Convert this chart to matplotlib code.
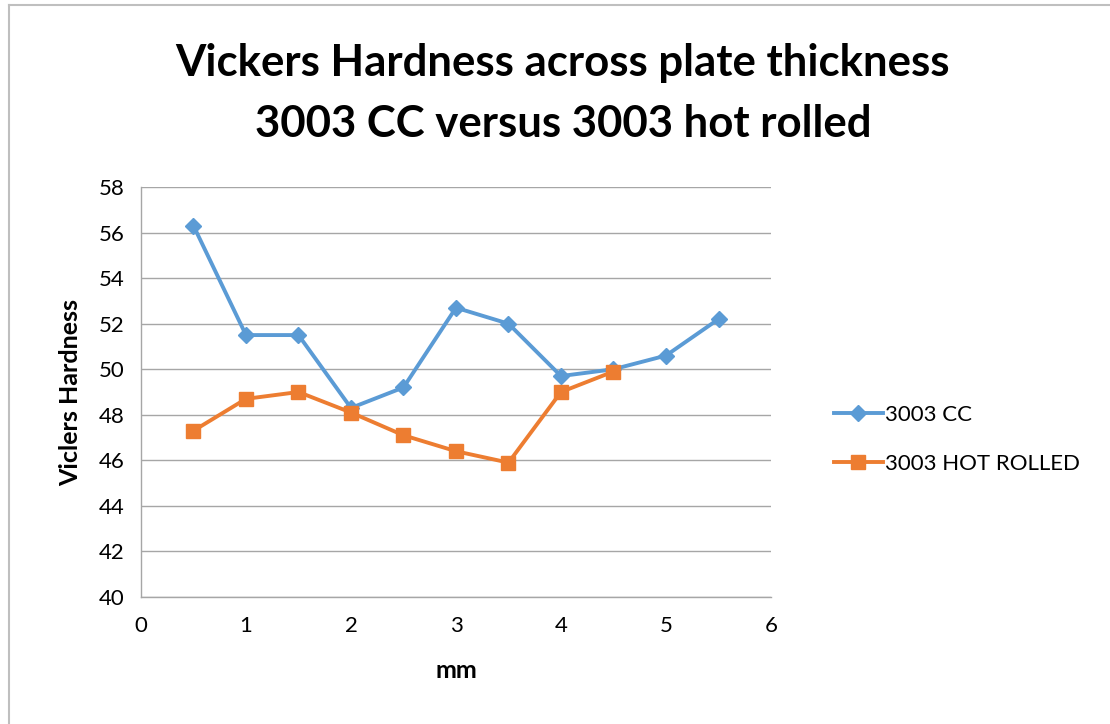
import matplotlib
matplotlib.use("Agg")
import matplotlib.pyplot as plt
from matplotlib.lines import Line2D

# Hardness readings across the plate thickness
thickness_cc = [0.5, 1.0, 1.5, 2.0, 2.5, 3.0, 3.5, 4.0, 4.5, 5.0, 5.5]
hardness_cc = [56.3, 51.5, 51.5, 48.3, 49.2, 52.7, 52.0, 49.7, 50.0, 50.6, 52.2]

thickness_hr = [0.5, 1.0, 1.5, 2.0, 2.5, 3.0, 3.5, 4.0, 4.5]
hardness_hr = [47.3, 48.7, 49.0, 48.1, 47.1, 46.4, 45.9, 49.0, 49.9]

series_labels = ["3003 CC", "3003 HOT ROLLED"]
x_ticks = [0, 1, 2, 3, 4, 5, 6]
y_ticks = [40, 42, 44, 46, 48, 50, 52, 54, 56, 58]

plt.rcParams['font.family'] = ['Lato', 'DejaVu Sans']

fig = plt.figure(figsize=(11.10, 7.24), dpi=100)
ax = fig.add_axes([0.127, 0.1754, 0.5676, 0.5663])

blue = "#5B9BD5"
orange = "#ED7D31"
grid_c = "#A6A6A6"

ax.plot(thickness_cc, hardness_cc, color=blue, lw=2.8, marker="D",
        markersize=8, label=series_labels[0], zorder=3)
ax.plot(thickness_hr, hardness_hr, color=orange, lw=2.8, marker="s",
        markersize=10, label=series_labels[1], zorder=3)

ax.set_xlim(0, 6)
ax.set_ylim(40, 58)
ax.set_xticks(x_ticks)
ax.set_yticks(y_ticks)
ax.yaxis.grid(True, color=grid_c, lw=1.0)
ax.set_axisbelow(True)
for s in ["top", "right"]:
    ax.spines[s].set_visible(False)
for s in ["left", "bottom"]:
    ax.spines[s].set_color(grid_c)
    ax.spines[s].set_linewidth(1.0)
ax.tick_params(axis="both", labelcolor="black", labelsize=16, length=0)
ax.tick_params(axis="x", pad=14)
ax.tick_params(axis="y", pad=12)

ax.set_xlabel("mm", fontsize=18, fontweight="bold", labelpad=16)
ax.set_ylabel("Viclers Hardness", fontsize=18, fontweight="bold", labelpad=12)

fig.text(0.507, 0.913, "Vickers Hardness across plate thickness",
         ha="center", va="center", fontsize=31.5, fontweight="bold")
fig.text(0.507, 0.829, "3003 CC versus 3003 hot rolled",
         ha="center", va="center", fontsize=31.5, fontweight="bold")

ax.legend(loc="upper left", bbox_to_anchor=(0.733, 0.468),
          bbox_transform=fig.transFigure, frameon=False, fontsize=16,
          handlelength=2.2, labelspacing=1.3, handletextpad=0.1)

# chart area frame (top and left edges)
fig.add_artist(Line2D([0.008, 1.0], [0.993, 0.993], transform=fig.transFigure,
                      color="#BFBFBF", lw=1.5))
fig.add_artist(Line2D([0.008, 0.008], [0.0, 0.993], transform=fig.transFigure,
                      color="#BFBFBF", lw=1.5))

fig.savefig("out.png", dpi=100)
